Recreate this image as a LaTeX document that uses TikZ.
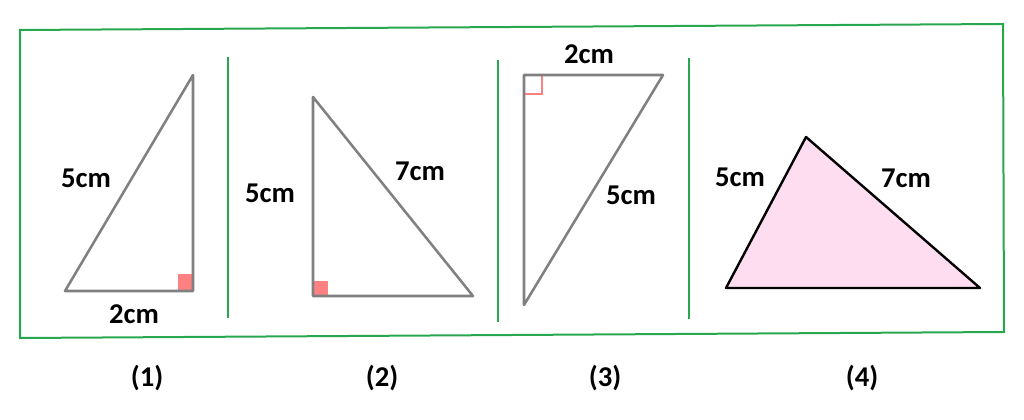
\documentclass[tikz,border=0pt]{standalone}
\usepackage{fontspec}
\setmainfont{Carlito}
\definecolor{frame}{RGB}{40,168,78}
\definecolor{edge}{RGB}{128,128,128}
\definecolor{mark}{RGB}{255,128,128}
\definecolor{pinkfill}{RGB}{255,221,241}
\tikzset{
  frameline/.style={draw=frame, line width=1.5pt},
  tri/.style={draw=edge, line width=1.9pt, line join=round},
  tridark/.style={draw=black, line width=1.8pt, fill=pinkfill, line join=round},
  lbl/.style={font=\fontsize{21.5}{24}\selectfont\bfseries, inner sep=0pt},
  markfill/.style={fill=mark},
  markline/.style={draw=mark, line width=1.3pt}
}
\begin{document}
\begin{tikzpicture}[x=0.75pt,y=-0.75pt]
\useasboundingbox (0,0) rectangle (1024,420);
% frame
\coordinate (f1) at (20,30);
\coordinate (f2) at (1003,24);
\coordinate (f3) at (1004,332);
\coordinate (f4) at (20,338);
\draw[frameline] (f1) -- (f2) -- (f3) -- (f4) -- cycle;
% dividers
\coordinate (d1a) at (228,57); \coordinate (d1b) at (228,318);
\coordinate (d2a) at (498,60); \coordinate (d2b) at (498,322);
\coordinate (d3a) at (689,58); \coordinate (d3b) at (689,319);
\draw[frameline] (d1a) -- (d1b);
\draw[frameline] (d2a) -- (d2b);
\draw[frameline] (d3a) -- (d3b);
% triangle 1
\coordinate (a1) at (65,291);
\coordinate (b1) at (193,291);
\coordinate (c1) at (193,75);
\fill[markfill] (178,274) rectangle (193,291);
\draw[tri] (a1) -- (b1) -- (c1) -- cycle;
\node[lbl] (t1a) at (86,178) {5cm};
\node[lbl] (t1b) at (134,314) {2cm};
% triangle 2
\coordinate (a2) at (313,97);
\coordinate (b2) at (313,296);
\coordinate (c2) at (473,296);
\fill[markfill] (313,281) rectangle (328,296);
\draw[tri] (a2) -- (b2) -- (c2) -- cycle;
\node[lbl] (t2a) at (270,193) {5cm};
\node[lbl] (t2b) at (420,171) {7cm};
% triangle 3
\coordinate (a3) at (524,75);
\coordinate (b3) at (663,75);
\coordinate (c3) at (524,305);
\draw[markline] (525,94) -- (542,94) -- (542,76);
\draw[tri] (a3) -- (b3) -- (c3) -- cycle;
\node[lbl] (t3a) at (589,54) {2cm};
\node[lbl] (t3b) at (631,195) {5cm};
% triangle 4
\coordinate (a4) at (806,137);
\coordinate (b4) at (726,288);
\coordinate (c4) at (980,288);
\draw[tridark] (a4) -- (b4) -- (c4) -- cycle;
\node[lbl] (t4a) at (740,177) {5cm};
\node[lbl] (t4b) at (906,178) {7cm};
% captions
\node[lbl] (n1) at (147,378) {(1)};
\node[lbl] (n2) at (382,378) {(2)};
\node[lbl] (n3) at (605,378) {(3)};
\node[lbl] (n4) at (862,378) {(4)};
\end{tikzpicture}
\end{document}
